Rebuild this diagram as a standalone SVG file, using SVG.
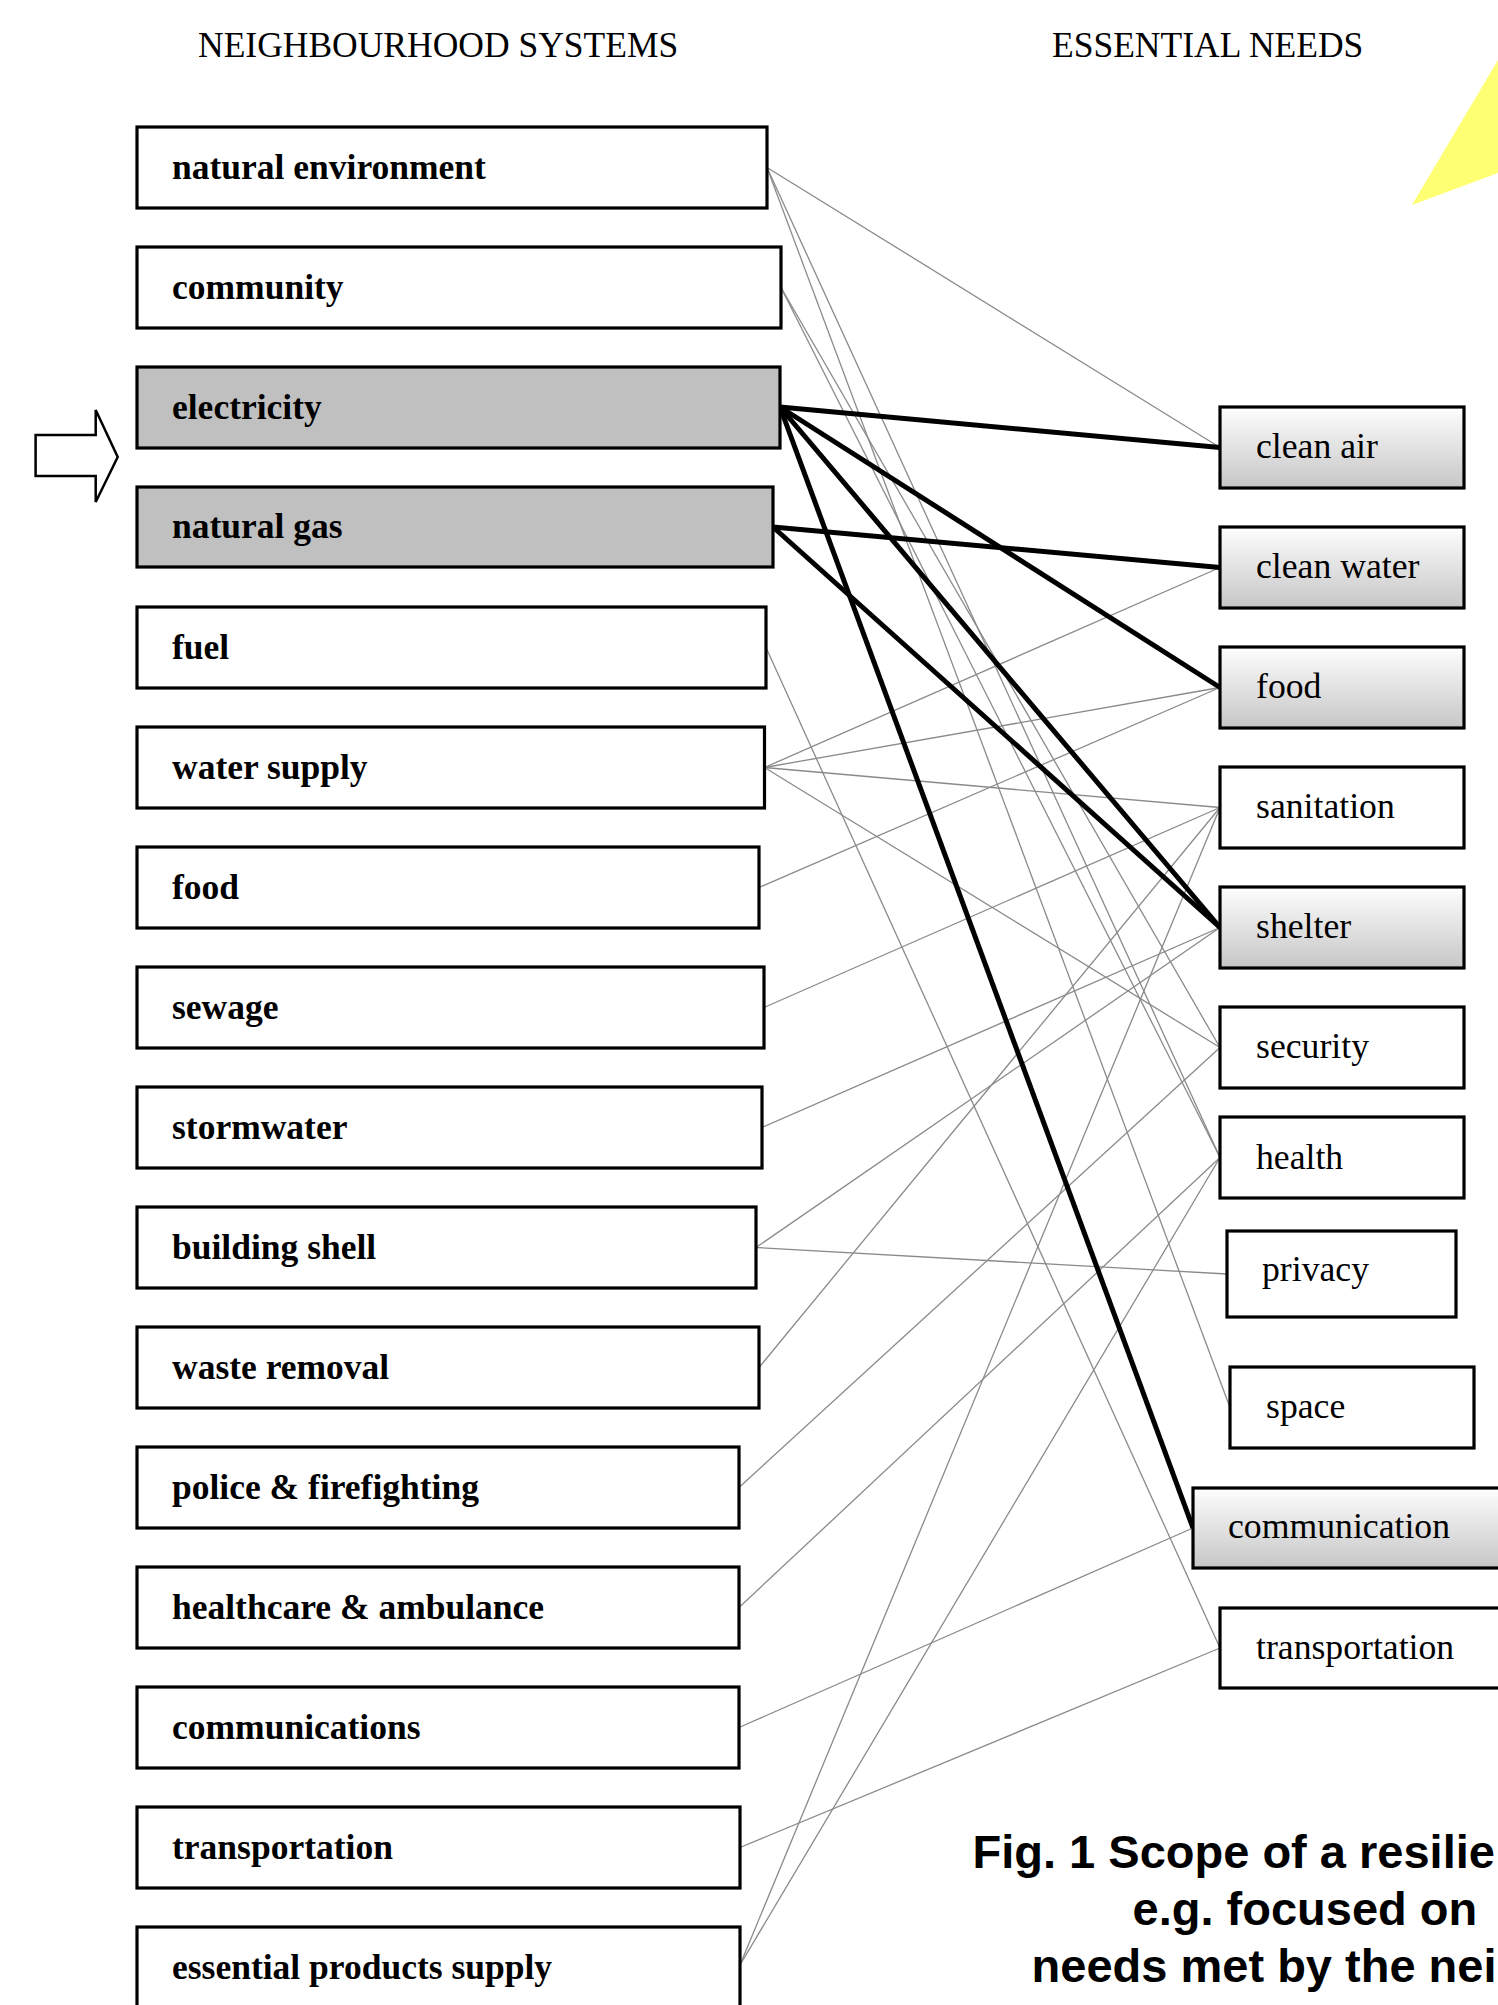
<svg xmlns="http://www.w3.org/2000/svg" width="1498" height="2005" viewBox="0 0 1498 2005">
<style>
.hdr{font-family:"Liberation Serif","Times New Roman",serif;font-size:35.5px;fill:#000}
.lb{font-family:"Liberation Serif","Times New Roman",serif;font-size:35.5px;font-weight:bold;fill:#000}
.rb{font-family:"Liberation Serif","Times New Roman",serif;font-size:35.7px;fill:#000}
.cap{font-family:"Liberation Sans",Arial,sans-serif;font-size:47px;font-weight:bold;fill:#000}
.box{fill:#fff;stroke:#000;stroke-width:3.2}
.sel{fill:#c0c0c0;stroke:#000;stroke-width:3.2}
.grad{fill:url(#g);stroke:#000;stroke-width:3.2}
.thin{stroke:#8a8a8a;stroke-width:1.3;fill:none}
.thick{stroke:#000;stroke-width:5;fill:none}
</style>
<defs>
<linearGradient id="g" x1="0" y1="0" x2="0" y2="1">
<stop offset="0" stop-color="#fefefe"/>
<stop offset="1" stop-color="#c6c6c6"/>
</linearGradient>
</defs>
<rect width="1498" height="2005" fill="#fff"/>
<polygon points="1412,205 1498,60 1498,173" fill="#ffff73"/>
<text class="hdr" x="198" y="57">NEIGHBOURHOOD SYSTEMS</text>
<text class="hdr" x="1052" y="57">ESSENTIAL NEEDS</text>
<g id="connectors">
<line class="thin" x1="767" y1="167.5" x2="1220" y2="447.5"/>
<line class="thin" x1="767" y1="167.5" x2="1220" y2="1157.5"/>
<line class="thin" x1="767" y1="167.5" x2="1230" y2="1407.5"/>
<line class="thin" x1="781" y1="287.5" x2="1220" y2="1157.5"/>
<line class="thin" x1="781" y1="287.5" x2="1220" y2="1047.5"/>
<line class="thin" x1="766" y1="647.5" x2="1220" y2="1648"/>
<line class="thin" x1="764.5" y1="767.5" x2="1220" y2="567.5"/>
<line class="thin" x1="764.5" y1="767.5" x2="1220" y2="687.5"/>
<line class="thin" x1="764.5" y1="767.5" x2="1220" y2="807.5"/>
<line class="thin" x1="764.5" y1="767.5" x2="1220" y2="1047.5"/>
<line class="thin" x1="759" y1="887.5" x2="1220" y2="687.5"/>
<line class="thin" x1="764" y1="1007.5" x2="1220" y2="807.5"/>
<line class="thin" x1="762" y1="1127.5" x2="1220" y2="927.5"/>
<line class="thin" x1="756" y1="1247.5" x2="1220" y2="927.5"/>
<line class="thin" x1="756" y1="1247.5" x2="1227" y2="1274"/>
<line class="thin" x1="759" y1="1367.5" x2="1220" y2="807.5"/>
<line class="thin" x1="739" y1="1487.5" x2="1220" y2="1047.5"/>
<line class="thin" x1="739" y1="1607.5" x2="1220" y2="1157.5"/>
<line class="thin" x1="739" y1="1727.5" x2="1193" y2="1528"/>
<line class="thin" x1="740" y1="1847.5" x2="1220" y2="1648"/>
<line class="thin" x1="740" y1="1965" x2="1220" y2="807.5"/>
<line class="thin" x1="740" y1="1965" x2="1220" y2="1157.5"/>
<line class="thick" x1="780" y1="407" x2="1220" y2="447.5"/>
<line class="thick" x1="780" y1="407" x2="1220" y2="687.5"/>
<line class="thick" x1="780" y1="407" x2="1220" y2="927.5"/>
<line class="thick" x1="780" y1="407" x2="1193" y2="1528"/>
<line class="thick" x1="773" y1="527" x2="1220" y2="567.5"/>
<line class="thick" x1="773" y1="527" x2="1220" y2="927.5"/>
</g>
<g id="arrow"><polygon points="35.6,435 95.7,435 95.7,410 117.7,457 95.7,502 95.7,476 35.6,476" fill="#fff" stroke="#000" stroke-width="2.5"/></g>
<g id="n-natural-environment"><rect class="box" x="137" y="127" width="630" height="81"/><text class="lb" x="172" y="179">natural environment</text></g>
<g id="n-community"><rect class="box" x="137" y="247" width="644" height="81"/><text class="lb" x="172" y="299">community</text></g>
<g id="n-electricity"><rect class="sel" x="137" y="367" width="643" height="81"/><text class="lb" x="172" y="419">electricity</text></g>
<g id="n-natural-gas"><rect class="sel" x="137" y="487" width="636" height="80"/><text class="lb" x="172" y="538">natural gas</text></g>
<g id="n-fuel"><rect class="box" x="137" y="607" width="629" height="81"/><text class="lb" x="172" y="659">fuel</text></g>
<g id="n-water-supply"><rect class="box" x="137" y="727" width="627.5" height="81"/><text class="lb" x="172" y="779">water supply</text></g>
<g id="n-food"><rect class="box" x="137" y="847" width="622" height="81"/><text class="lb" x="172" y="899">food</text></g>
<g id="n-sewage"><rect class="box" x="137" y="967" width="627" height="81"/><text class="lb" x="172" y="1019">sewage</text></g>
<g id="n-stormwater"><rect class="box" x="137" y="1087" width="625" height="81"/><text class="lb" x="172" y="1139">stormwater</text></g>
<g id="n-building-shell"><rect class="box" x="137" y="1207" width="619" height="81"/><text class="lb" x="172" y="1259">building shell</text></g>
<g id="n-waste-removal"><rect class="box" x="137" y="1327" width="622" height="81"/><text class="lb" x="172" y="1379">waste removal</text></g>
<g id="n-police"><rect class="box" x="137" y="1447" width="602" height="81"/><text class="lb" x="172" y="1499">police &amp; firefighting</text></g>
<g id="n-healthcare"><rect class="box" x="137" y="1567" width="602" height="81"/><text class="lb" x="172" y="1619">healthcare &amp; ambulance</text></g>
<g id="n-communications"><rect class="box" x="137" y="1687" width="602" height="81"/><text class="lb" x="172" y="1739">communications</text></g>
<g id="n-transportation"><rect class="box" x="137" y="1807" width="603" height="81"/><text class="lb" x="172" y="1859">transportation</text></g>
<g id="n-essential-products"><rect class="box" x="137" y="1927" width="603" height="90"/><text class="lb" x="172" y="1979">essential products supply</text></g>
<g id="r-clean-air"><rect class="grad" x="1220" y="407" width="244" height="81"/><text class="rb" x="1256" y="458">clean air</text></g>
<g id="r-clean-water"><rect class="grad" x="1220" y="527" width="244" height="81"/><text class="rb" x="1256" y="578">clean water</text></g>
<g id="r-food"><rect class="grad" x="1220" y="647" width="244" height="81"/><text class="rb" x="1256" y="698">food</text></g>
<g id="r-sanitation"><rect class="box" x="1220" y="767" width="244" height="81"/><text class="rb" x="1256" y="818">sanitation</text></g>
<g id="r-shelter"><rect class="grad" x="1220" y="887" width="244" height="81"/><text class="rb" x="1256" y="938">shelter</text></g>
<g id="r-security"><rect class="box" x="1220" y="1007" width="244" height="81"/><text class="rb" x="1256" y="1058">security</text></g>
<g id="r-health"><rect class="box" x="1220" y="1117" width="244" height="81"/><text class="rb" x="1256" y="1169">health</text></g>
<g id="r-privacy"><rect class="box" x="1227" y="1231" width="229" height="86"/><text class="rb" x="1262" y="1281">privacy</text></g>
<g id="r-space"><rect class="box" x="1230" y="1367" width="244" height="81"/><text class="rb" x="1266" y="1418">space</text></g>
<g id="r-communication"><rect class="grad" x="1193" y="1488" width="330" height="80"/><text class="rb" x="1228" y="1538">communication</text></g>
<g id="r-transportation"><rect class="box" x="1220" y="1608" width="300" height="80"/><text class="rb" x="1256" y="1659">transportation</text></g>
<text class="cap" x="972.5" y="1868">Fig. 1 Scope of a resilie</text>
<text class="cap" x="1132.6" y="1925">e.g. focused on</text>
<text class="cap" x="1031.6" y="1982">needs met by the nei</text>
</svg>
